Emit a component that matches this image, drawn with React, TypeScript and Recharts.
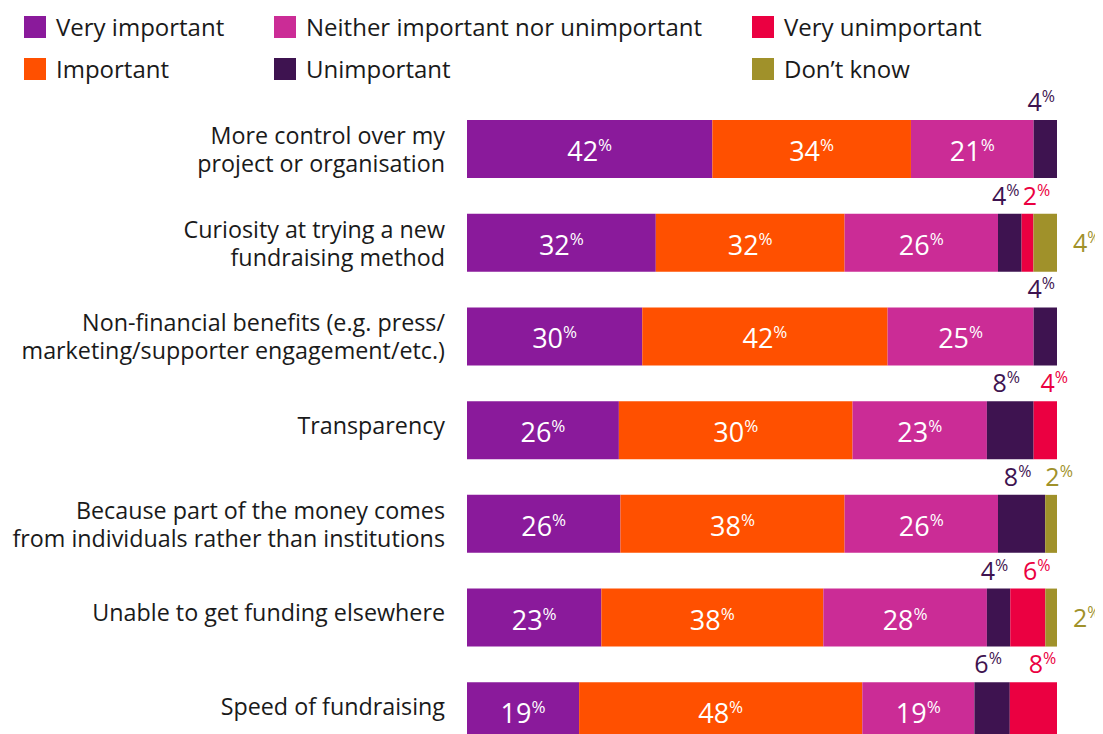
import React from 'react';
import { BarChart, Bar, XAxis, YAxis, LabelList } from 'recharts';

// categories, split in display lines (the name is the lines joined)
const CATEGORY_LINES = [
  ['More control over my', 'project or organisation'],
  ['Curiosity at trying a new', 'fundraising method'],
  ['Non-financial benefits (e.g. press/', 'marketing/supporter engagement/etc.)'],
  ['Transparency'],
  ['Because part of the money comes', 'from individuals rather than institutions'],
  ['Unable to get funding elsewhere'],
  ['Speed of fundraising'],
];
const CATEGORIES = CATEGORY_LINES.map((l) => l.join(' '));

const VERY_IMPORTANT = [42, 32, 30, 26, 26, 23, 19];
const IMPORTANT = [34, 32, 42, 40, 38, 38, 48];
// the printed label on the Transparency bar reads 30% although the bar is ~40%
const IMPORTANT_LABELS = [34, 32, 42, 30, 38, 38, 48];
const NEITHER = [21, 26, 25, 23, 26, 28, 19];
const UNIMPORTANT = [4, 4, 4, 8, 8, 4, 6];
const VERY_UNIMPORTANT = [0, 2, 0, 4, 0, 6, 8];
const DONT_KNOW = [0, 4, 0, 0, 2, 2, 0];

type Series = { key: string; name: string; color: string; values: number[]; labels?: number[]; dx: number };

const SERIES: Series[] = [
  { key: 'vi', name: 'Very important', color: '#8a1a9b', values: VERY_IMPORTANT, dx: 0 },
  { key: 'imp', name: 'Important', color: '#ff5000', values: IMPORTANT, labels: IMPORTANT_LABELS, dx: 0 },
  { key: 'nei', name: 'Neither important nor unimportant', color: '#cb2c96', values: NEITHER, dx: 0 },
  { key: 'un', name: 'Unimportant', color: '#3e1350', values: UNIMPORTANT, dx: -4 },
  { key: 'vun', name: 'Very unimportant', color: '#eb0041', values: VERY_UNIMPORTANT, dx: 9 },
  { key: 'dk', name: 'Don\u2019t know', color: '#a0912a', values: DONT_KNOW, dx: 8 },
];

// legend as laid out in the picture (3 columns x 2 rows)
const LEGEND_COLUMNS = [
  ['vi', 'imp'],
  ['nei', 'un'],
  ['vun', 'dk'],
];
const LEGEND_X = [16, 266, 744];

const FONT = '"Open Sans", "Noto Sans", sans-serif';
const TEXT = '#1a1a1a';

const rows = CATEGORIES.map((name, i) => {
  const row: Record<string, string | number> = { name };
  for (const s of SERIES) row[s.key] = s.values[i];
  return row;
});

function CategoryTick(props: any) {
  const { x, y, payload } = props;
  const idx = CATEGORIES.indexOf(String(payload?.value));
  const lines = CATEGORY_LINES[idx] ?? [String(payload?.value ?? '')];
  const first = lines.length === 1 ? 4 : -5;
  return (
    <text x={x} y={y} textAnchor="end" fontFamily={FONT} fontSize={23.3} fill={TEXT}>
      {lines.map((l, i) => (
        <tspan key={i} x={x} y={y + first + i * 28}>
          {l}
        </tspan>
      ))}
    </text>
  );
}

// LabelList is fed the row name, so the row can be found even when zero-width bars are skipped
function makeLabel(s: Series) {
  return (props: any) => {
    const vb = props.viewBox ?? props;
    const { x, y, width, height } = vb;
    const i = CATEGORIES.indexOf(String(props.value));
    if (i < 0) return null;
    const v = s.values[i];
    if (!v) return null;
    const shown = (s.labels ?? s.values)[i];
    if (v >= 15) {
      return (
        <text x={x + width / 2} y={y + height / 2 + 12} textAnchor="middle" fontFamily={FONT} fill="#fff">
          <tspan fontSize={27}>{shown}</tspan>
          <tspan fontSize={17} dy={-10}>%</tspan>
        </text>
      );
    }
    const rightSide = s.key === 'dk' && VERY_UNIMPORTANT[i] > 0;
    if (rightSide) {
      return (
        <text x={x + width + 16} y={y + height / 2 + 9} textAnchor="start" fontFamily={FONT} fill={s.color}>
          <tspan fontSize={25}>{shown}</tspan>
          <tspan fontSize={16} dy={-9}>%</tspan>
        </text>
      );
    }
    return (
      <text x={x + width / 2 + s.dx} y={y - 9} textAnchor="middle" fontFamily={FONT} fill={s.color}>
        <tspan fontSize={25}>{shown}</tspan>
        <tspan fontSize={16} dy={-9}>%</tspan>
      </text>
    );
  };
}

export default function App() {
  return (
    <div style={{ position: 'relative', width: 1095, height: 726, overflow: 'hidden', fontFamily: FONT }}>
      {LEGEND_COLUMNS.map((col, ci) =>
        col.map((key, ri) => {
          const s = SERIES.find((d) => d.key === key)!;
          return (
            <div
              key={key}
              style={{ position: 'absolute', left: LEGEND_X[ci], top: 8 + ri * 42, height: 22, display: 'flex', alignItems: 'center' }}
            >
              <div style={{ width: 22, height: 22, background: s.color, marginRight: 10 }} />
              <span style={{ fontSize: 24, color: TEXT, whiteSpace: 'nowrap', lineHeight: '22px' }}>{s.name}</span>
            </div>
          );
        })
      )}
      <div style={{ position: 'absolute', left: 0, top: 0 }}>
        <BarChart
          width={1095}
          height={760}
          data={rows}
          layout="vertical"
          stackOffset="expand"
          barSize={58}
          margin={{ top: 94, right: 46, bottom: 10, left: 0 }}
        >
          <XAxis type="number" hide domain={[0, 1]} />
          <YAxis
            type="category"
            dataKey="name"
            width={459}
            axisLine={false}
            tickLine={false}
            tickSize={0}
            tickMargin={22}
            tick={<CategoryTick />}
            interval={0}
          />
          {SERIES.map((s) => (
            <Bar key={s.key} dataKey={s.key} name={s.name} stackId="a" fill={s.color} isAnimationActive={false}>
              <LabelList dataKey="name" content={makeLabel(s)} />
            </Bar>
          ))}
        </BarChart>
      </div>
    </div>
  );
}
